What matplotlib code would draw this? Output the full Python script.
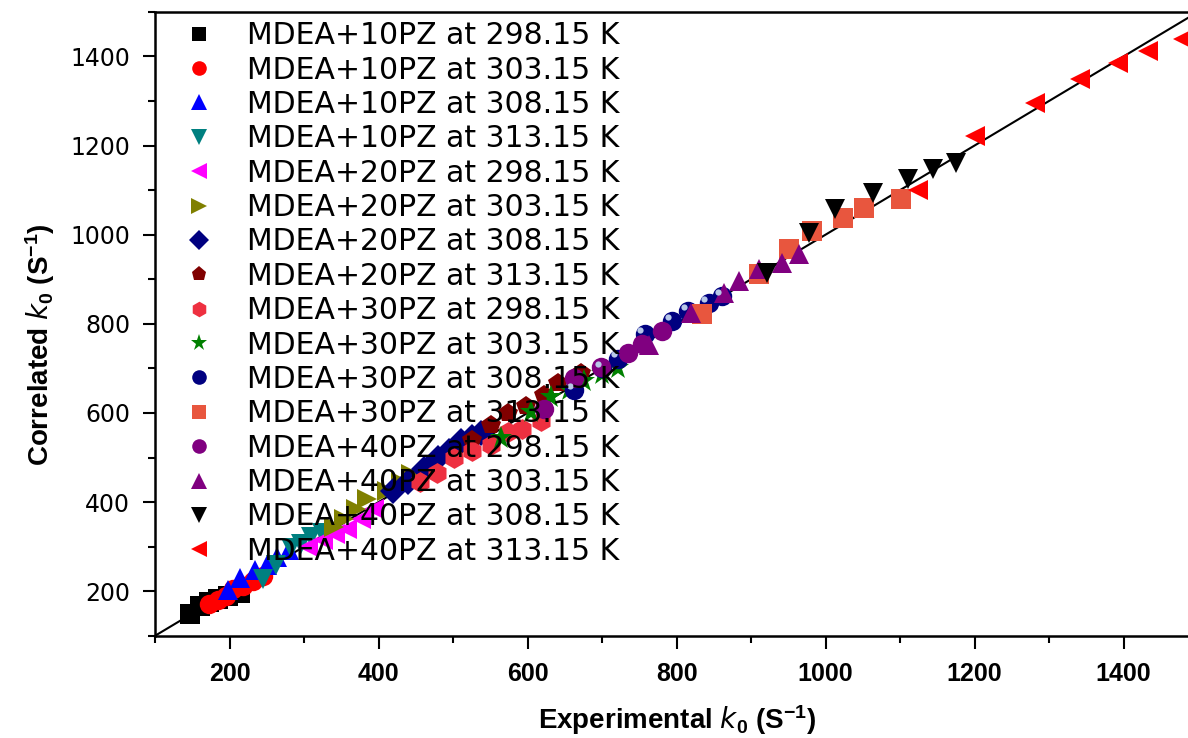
import numpy as np
import matplotlib
matplotlib.use('Agg')
import matplotlib.pyplot as plt
from matplotlib import transforms

plt.rcParams['mathtext.default'] = 'regular'

# experimental vs correlated k0 (S^-1)
labels = ['MDEA+10PZ at 298.15 K', 'MDEA+10PZ at 303.15 K', 'MDEA+10PZ at 308.15 K',
          'MDEA+10PZ at 313.15 K', 'MDEA+20PZ at 298.15 K', 'MDEA+20PZ at 303.15 K',
          'MDEA+20PZ at 308.15 K', 'MDEA+20PZ at 313.15 K', 'MDEA+30PZ at 298.15 K',
          'MDEA+30PZ at 303.15 K', 'MDEA+30PZ at 308.15 K', 'MDEA+30PZ at 313.15 K',
          'MDEA+40PZ at 298.15 K', 'MDEA+40PZ at 303.15 K', 'MDEA+40PZ at 308.15 K',
          'MDEA+40PZ at 313.15 K']

x_10_298 = [147, 160, 172, 184, 198, 214]
y_10_298 = [150, 166, 175, 182, 190, 195]
x_10_303 = [172, 185, 195, 205, 218, 232, 245]
y_10_303 = [172, 180, 190, 205, 212, 222, 235]
x_10_308 = [198, 214, 234, 250, 264, 280]
y_10_308 = [203, 230, 248, 259, 277, 292]
x_10_313 = [245, 262, 282, 296, 310, 324]
y_10_313 = [228, 258, 296, 305, 322, 330]

x_20_298 = [305, 326, 342, 358, 376, 394]
y_20_298 = [300, 315, 328, 340, 362, 385]
x_20_303 = [340, 353, 370, 385, 412, 430, 443]
y_20_303 = [345, 363, 385, 408, 424, 445, 462]
x_20_308 = [420, 440, 461, 480, 495, 511, 525, 538]
y_20_308 = [424, 445, 475, 498, 515, 536, 545, 554]
x_20_313 = [525, 551, 574, 598, 622, 641, 672]
y_20_313 = [540, 574, 600, 615, 641, 668, 690]

x_30_298 = [455, 478, 501, 525, 551, 574, 592, 618]
y_30_298 = [445, 465, 498, 515, 529, 558, 565, 581]
x_30_303 = [565, 605, 632, 655, 676, 700, 722]
y_30_303 = [543, 603, 635, 652, 671, 688, 700]
x_30_308 = [663, 700, 722, 757, 794, 816, 843, 861]
y_30_308 = [652, 700, 722, 776, 806, 828, 846, 862]
x_30_313 = [834, 911, 951, 982, 1023, 1052, 1101]
y_30_313 = [821, 911, 967, 1008, 1037, 1060, 1080]

x_40_298 = [622, 663, 699, 735, 753, 780]
y_40_298 = [608, 678, 704, 735, 754, 783]
x_40_303 = [763, 820, 864, 884, 911, 942, 965]
y_40_303 = [752, 824, 869, 895, 922, 936, 956]
x_40_308 = [922, 978, 1013, 1063, 1110, 1144, 1175]
y_40_308 = [913, 1003, 1057, 1093, 1125, 1147, 1161]
x_40_313 = [1124, 1200, 1281, 1342, 1393, 1433, 1480]
y_40_313 = [1100, 1221, 1296, 1349, 1385, 1412, 1439]

xs = [x_10_298, x_10_303, x_10_308, x_10_313, x_20_298, x_20_303, x_20_308, x_20_313,
      x_30_298, x_30_303, x_30_308, x_30_313, x_40_298, x_40_303, x_40_308, x_40_313]
ys = [y_10_298, y_10_303, y_10_308, y_10_313, y_20_298, y_20_303, y_20_308, y_20_313,
      y_30_298, y_30_303, y_30_308, y_30_313, y_40_298, y_40_303, y_40_308, y_40_313]

markers = ['s', 'o', '^', 'v', '<', '>', 'D', 'p', 'h', '*', 'o', 's', 'o', '^', 'v', '<']
colors = ['black', '#FF0000', '#0000FF', '#008080', '#FF00FF', '#808000', '#000080', '#800000',
          '#EE3040', '#008000', '#000080', '#E8563E', '#800080', '#800080', 'black', '#FF0000']
sizes = [14, 14, 15, 15, 15, 15, 13, 15, 15, 17, 14, 14, 14, 15, 15, 15]

fig = plt.figure(figsize=(11.88, 7.38), dpi=100)
ax = fig.add_axes([0.1305, 0.1385, 0.878, 0.8455])

# parity line
ax.plot([100, 1500], [100, 1500], color='black', lw=1.5, zorder=1)

handles = []
for i in range(len(labels)):
    h, = ax.plot(xs[i], ys[i], ls='none', marker=markers[i], color=colors[i],
                 markersize=sizes[i], markeredgewidth=0, label=labels[i], zorder=2)
    handles.append(h)
    if i == 10:
        # little shine on the spheres
        shine = transforms.offset_copy(ax.transData, fig=fig, x=-3, y=3, units='points')
        ax.plot(xs[i], ys[i], ls='none', marker='o', color='#B8C8E8', markersize=4.5,
                markeredgewidth=0, transform=shine, zorder=3)

ax.set_xlim(100, 1500)
ax.set_ylim(100, 1500)
ax.set_xticks(np.arange(200, 1401, 200))
ax.set_yticks(np.arange(200, 1401, 200))
ax.set_xticks(np.arange(100, 1501, 100), minor=True)
ax.set_yticks(np.arange(100, 1501, 100), minor=True)
ax.tick_params(which='major', direction='out', length=9, width=1.5)
ax.tick_params(which='minor', direction='out', length=5, width=1.5)
ax.tick_params(axis='y', which='major', labelsize=17, pad=9)
ax.tick_params(axis='x', which='major', labelsize=18, pad=10)
for lab in ax.get_xticklabels():
    lab.set_family('Liberation Sans')
    lab.set_fontweight('bold')
for sp in ax.spines.values():
    sp.set_linewidth(1.8)

ax.set_xlabel('Experimental $\\mathit{k}_{0}$ (S$^{-1}$)', fontsize=20, fontweight='bold',
              family='Liberation Sans')
ax.set_ylabel('Correlated $\\mathit{k}_{0}$ (S$^{-1}$)', fontsize=20, fontweight='bold',
              family='Liberation Sans')
ax.xaxis.set_label_coords(0.50, -0.108)
ax.yaxis.set_label_coords(-0.094, 0.466)

leg = ax.legend(handles=handles, loc='upper left', bbox_to_anchor=(0.028, 0.985),
                frameon=False, fontsize=21.5, markerscale=0.75, handlelength=1.0,
                handletextpad=1.1, labelspacing=0.18, borderpad=0, borderaxespad=0)

fig.savefig('out.png', dpi=100)
